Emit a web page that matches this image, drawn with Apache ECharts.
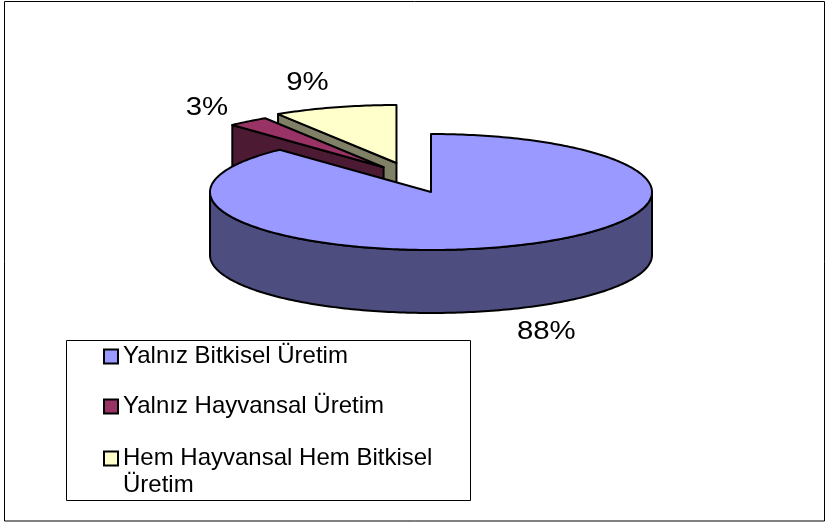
<!DOCTYPE html>
<html><head><meta charset="utf-8">
<script src="https://cdn.jsdelivr.net/npm/echarts@6/dist/echarts.min.js"></script>
<style>html,body{margin:0;padding:0;background:#fff}#c{width:827px;height:525px}</style>
</head><body><div id="c"></div>
<script>
// ---- data ----
const categories = ['Yalnız Bitkisel Üretim', 'Yalnız Hayvansal Üretim', 'Hem Hayvansal Hem Bitkisel Üretim'];
const values = [88, 3, 9];

// ---- styles / layout ----
const TOP_COLORS = ['#9999FF', '#993366', '#FFFFCC'];
const SIDE_COLORS = ['#4D4D80', '#4D1A33', '#808066'];
const GEOM = {cx: 431, cy: 192, rx: 221, ry: 58, depth: 63};
// explosion of each slice along its mid-angle (fraction of radius, horizontal / vertical)
const EXPLODE = [[0, 0], [0.35, 0.54], [0.56, 0.52]];
const FONT = '"Liberation Sans", Arial, sans-serif';
const LABEL_FONT_SIZE = 26, LABEL_SCALE_X = 1.13, LABEL_GAP = 19;
const LEGEND_LEFT = 103, LEGEND_TOPS = [343, 393, 418];

const total = values.reduce((a, b) => a + b, 0);
const rad = d => d * Math.PI / 180;
function sliceAngles(i) {
  let s = 0; for (let k = 0; k < i; k++) s += values[k];
  return [s / total * 360, (s + values[i]) / total * 360];
}
function sliceOffset(i) {
  const [a0, a1] = sliceAngles(i); const m = rad((a0 + a1) / 2); const e = EXPLODE[i];
  return [e[0] * GEOM.rx * Math.sin(m), -e[1] * GEOM.ry * Math.cos(m)];
}
const measureCtx = document.createElement('canvas').getContext('2d');
measureCtx.font = LABEL_FONT_SIZE + 'px ' + FONT;

function renderSlice(i) {
  return function (params, api) {
    const v = api.value(0);
    const a0 = sliceAngles(i)[0], a1 = a0 + v / total * 360;
    const off = sliceOffset(i);
    const cx = GEOM.cx + off[0], cy = GEOM.cy + off[1];
    const rx = GEOM.rx, ry = GEOM.ry, h = GEOM.depth;
    const pt = (deg, dy) => [cx + Math.sin(rad(deg)) * rx, cy - Math.cos(rad(deg)) * ry + dy];
    const arc = (s, e, dy) => {
      const n = Math.max(2, Math.ceil((e - s) / 1));
      const out = [];
      for (let k = 0; k <= n; k++) out.push(pt(s + (e - s) * k / n, dy));
      return out;
    };
    const base = {stroke: '#000', lineWidth: 2, lineJoin: 'round'};
    const children = [];
    let z2 = 1;
    if (Math.sin(rad(a0)) < -1e-6) {
      children.push({type: 'polygon', z2: z2++, shape: {points: [pt(a0, 0), [cx, cy], [cx, cy + h], pt(a0, h)]},
        style: Object.assign({fill: SIDE_COLORS[i]}, base)});
    }
    if (Math.sin(rad(a1)) > 1e-6) {
      children.push({type: 'polygon', z2: z2++, shape: {points: [pt(a1, 0), [cx, cy], [cx, cy + h], pt(a1, h)]},
        style: Object.assign({fill: SIDE_COLORS[i]}, base)});
    }
    const ws = Math.max(a0, 90), we = Math.min(a1, 270);
    if (we > ws) {
      children.push({type: 'polygon', z2: z2++, shape: {points: arc(ws, we, 0).concat(arc(ws, we, h).reverse())},
        style: Object.assign({fill: SIDE_COLORS[i]}, base)});
    }
    children.push({type: 'polygon', z2: z2++, shape: {points: [[cx, cy]].concat(arc(a0, a1, 0))},
      style: Object.assign({fill: TOP_COLORS[i]}, base)});
    // label
    const m = rad((a0 + a1) / 2);
    const dx = rx * Math.sin(m), dy = -ry * Math.cos(m);
    const ex = cx + dx, ey = cy + dy + (Math.cos(m) < 0 ? h : 0);
    const len = Math.hypot(dx, dy); const ux = dx / len, uy = dy / len;
    const txt = Math.round(v / total * 100) + '%';
    const w = measureCtx.measureText(txt).width * LABEL_SCALE_X;
    const hw = w / 2 + 2, hh = 12;
    const t = Math.min(Math.abs(ux) > 1e-6 ? hw / Math.abs(ux) : 1e9, Math.abs(uy) > 1e-6 ? hh / Math.abs(uy) : 1e9);
    const lx = ex + ux * (LABEL_GAP + t), ly = ey + uy * (LABEL_GAP + t);
    children.push({type: 'text', z2: 50, x: lx, y: ly, scaleX: LABEL_SCALE_X,
      style: {text: txt, fill: '#000', font: LABEL_FONT_SIZE + 'px ' + FONT, align: 'center', verticalAlign: 'middle'}});
    return {type: 'group', children};
  };
}

// draw order: back (smaller apex y) first
const order = categories.map((_, i) => i).sort((a, b) => sliceOffset(a)[1] - sliceOffset(b)[1]);
const zOf = {}; order.forEach((idx, r) => { zOf[idx] = 2 + r; });

const chart = echarts.init(document.getElementById('c'), null, {renderer: 'canvas'});
chart.setOption({
  animation: false,
  backgroundColor: '#fff',
  graphic: [
    {type: 'rect', z: 0, silent: true, shape: {x: 4.5, y: 1.5, width: 820, height: 519.5}, style: {fill: 'none', stroke: '#000', lineWidth: 1}},
    {type: 'rect', z: 1, silent: true, shape: {x: 66.5, y: 340.5, width: 404, height: 160}, style: {fill: '#fff', stroke: '#000', lineWidth: 1}}
  ],
  legend: categories.map((name, i) => ({
    data: [name], orient: 'vertical', left: LEGEND_LEFT, top: LEGEND_TOPS[i], padding: 0, z: 10,
    itemWidth: 14, itemHeight: 14, icon: 'rect', selectedMode: false,
    itemStyle: {borderColor: '#000', borderWidth: 2},
    textStyle: {fontFamily: FONT, fontSize: 24, lineHeight: 27, color: '#000'},
    formatter: i === 2 ? (n => '\n' + n.replace(/ (\S+)$/, '\n$1')) : '{name}'
  })),
  series: categories.map((name, i) => ({
    type: 'custom', name, coordinateSystem: 'none', silent: true, z: zOf[i],
    itemStyle: {color: TOP_COLORS[i]},
    renderItem: renderSlice(i),
    data: [{name, value: values[i]}]
  }))
});
</script></body></html>
